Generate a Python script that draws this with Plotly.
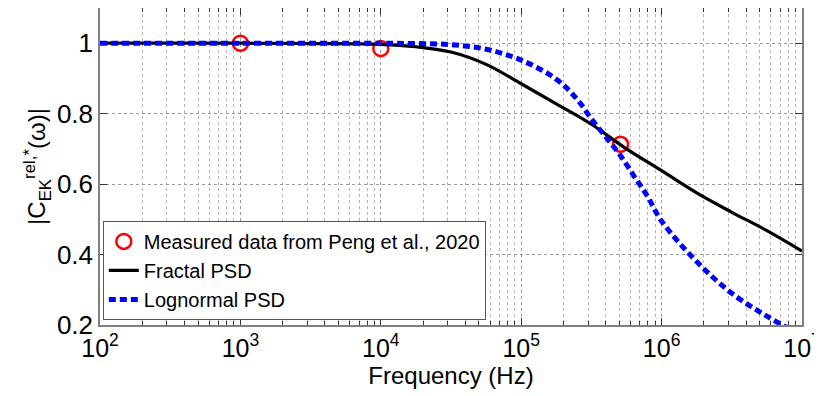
import plotly.graph_objects as go

# Measured data
meas_freq = [1000, 10000, 510000]
meas_val = [1.0, 0.985, 0.713]

# Fractal PSD model curve
frac_freq = [100, 1000, 3162, 10000, 17783, 31623, 56234, 100000, 177828, 316228,
             562341, 1000000, 1778279, 3162278, 5623413, 10000000]
frac_val = [1.0, 1.0, 0.999, 0.997, 0.99, 0.975, 0.94, 0.885, 0.828, 0.77,
            0.70, 0.638, 0.575, 0.52, 0.468, 0.41]

# Lognormal PSD model curve
logn_freq = [100, 1000, 10000, 17783, 31623, 56234, 100000, 177828, 251189, 316228,
             398107, 501187, 630957, 794328, 1000000, 1778279, 3162278, 5623413, 10000000]
logn_val = [1.0, 1.0, 1.0, 0.999, 0.996, 0.983, 0.952, 0.898, 0.84, 0.785,
            0.735, 0.685, 0.625, 0.565, 0.495, 0.38, 0.29, 0.225, 0.17]

x_tickvals = [100, 1000, 10000, 100000, 1000000, 10000000]
x_ticktext = ["10<sup>2</sup>", "10<sup>3</sup>", "10<sup>4</sup>", "10<sup>5</sup>",
              "10<sup>6</sup>", "10<sup>7</sup>"]
x_minor = [m * d for d in [100, 1000, 10000, 100000, 1000000] for m in range(2, 10)]
y_tickvals = [0.2, 0.4, 0.6, 0.8, 1.0]
y_ticktext = ["0.2", "0.4", "0.6", "0.8", "1"]

fig = go.Figure()
fig.add_trace(go.Scatter(
    x=meas_freq, y=meas_val, mode="markers",
    name="Measured data from Peng et al., 2020",
    marker=dict(symbol="circle-open", size=15, color="#ff0000", line=dict(width=2.5, color="#ff0000")),
))
fig.add_trace(go.Scatter(
    x=frac_freq, y=frac_val, mode="lines", name="Fractal PSD",
    line=dict(color="black", width=3.2, shape="spline", smoothing=1.0),
))
fig.add_trace(go.Scatter(
    x=logn_freq, y=logn_val, mode="lines", name="Lognormal PSD",
    line=dict(color="#0000ff", width=5, dash="7px,4px", shape="spline", smoothing=1.0),
))

font_family = "Liberation Sans, Arial, sans-serif"
# The page body has an 8px default margin, so the figure is sized 8px smaller.
fig.update_layout(
    width=814, height=388,
    margin=dict(l=92, r=20, t=0, b=71),
    plot_bgcolor="white", paper_bgcolor="white",
    font=dict(family=font_family, color="black"),
    showlegend=True,
    legend=dict(
        x=0.004, y=0.016, xanchor="left", yanchor="bottom",
        bgcolor="white", bordercolor="#555555", borderwidth=1,
        font=dict(size=20, family=font_family, color="black"),
        itemwidth=30, tracegroupgap=0,
    ),
)
fig.update_xaxes(
    type="log", range=[2, 7], automargin=False, ticklabeloverflow="allow",
    tickvals=x_tickvals, ticktext=x_ticktext,
    tickfont=dict(size=25), ticks="inside", ticklen=7, tickcolor="#333333",
    showline=True, linecolor="#808080", linewidth=1.5, mirror="ticks",
    showgrid=True, gridcolor="#9a9a9a", griddash="dot", gridwidth=1,
    minor=dict(tickvals=x_minor, ticks="inside", ticklen=4, tickcolor="#333333", showgrid=True,
               gridcolor="#b4b4b4", griddash="dot", gridwidth=1),
    title=dict(text="Frequency (Hz)", font=dict(size=24), standoff=2),
    zeroline=False,
)
fig.update_yaxes(
    range=[0.2, 1.1], automargin=False,
    tickvals=y_tickvals, ticktext=y_ticktext,
    tickfont=dict(size=26), ticks="inside", ticklen=7, tickcolor="#333333",
    showline=True, linecolor="#808080", linewidth=1.5, mirror="ticks",
    showgrid=True, gridcolor="#9a9a9a", griddash="dot", gridwidth=1,
    title=dict(text="|C<sub>EK</sub><sup>rel,*</sup>(ω)|", font=dict(size=24), standoff=4),
    zeroline=False,
)

fig.write_html("out.html")
